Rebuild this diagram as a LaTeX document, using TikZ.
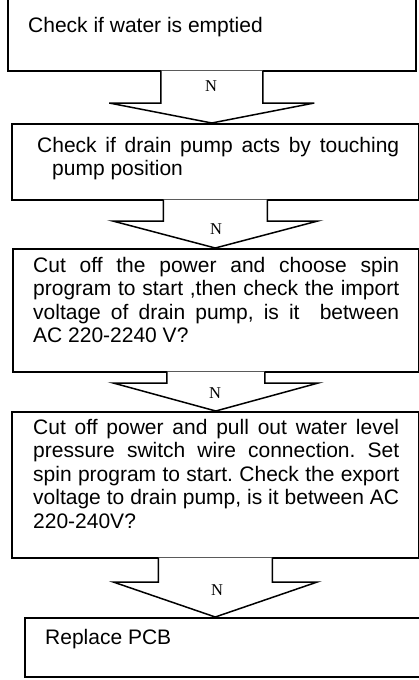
\documentclass[tikz,border=0pt]{standalone}
\usepackage{fontspec}
\setmainfont{Liberation Sans}
\newfontfamily\nfont{Liberation Serif}
\usetikzlibrary{calc}
\frenchspacing
\tikzset{
  box/.style={draw, line width=1.5pt, fill=white, inner sep=0pt, anchor=north west},
  txt/.style={inner sep=0pt, anchor=base west, font=\fontsize{21}{23.6}\selectfont, align=justify},
  arrowbody/.style={draw, fill=white, line width=1.5pt, line join=miter},
  nlabel/.style={inner sep=0pt, font=\nfont\fontsize{16.5}{16.5}\selectfont}
}
% #1 source node, #2 target node, #3 half shaft, #4 half wing, #5 head height
\newcommand\blockarrow[5]{%
  \path[arrowbody] let \p1=(#1.south), \p2=(#2.north) in
    (\x1-#3pt,\y1+1pt) -- (\x1-#3pt,\y2+#5pt) -- (\x1-#4pt,\y2+#5pt) -- (\x1,\y2)
    -- (\x1+#4pt,\y2+#5pt) -- (\x1+#3pt,\y2+#5pt) -- (\x1+#3pt,\y1+1pt);%
}
\begin{document}
\begin{tikzpicture}[x=1pt,y=-1pt]
\useasboundingbox (0,0) rectangle (419,680);
\clip (0,0) rectangle (419,680);
% boxes
\node[box, minimum width=408pt, minimum height=76pt] (b1) at (7,-6) {};
\node[box, minimum width=407pt, minimum height=76pt] (b2) at (11,123) {};
\node[box, minimum width=406pt, minimum height=123pt] (b3) at (12,248) {};
\node[box, minimum width=407pt, minimum height=146pt] (b4) at (11,411) {};
\node[box, minimum width=410pt, minimum height=59pt] (b5) at (24,617) {};
% texts
\node[txt] (t1) at (28,32) {Check if water is emptied};
\node[txt, text width=362pt] (t2) at (37,152) {\tolerance=10000 Check if drain pump acts by touching\linebreak\hspace*{15pt}pump position};
\node[txt, text width=366pt] (t3) at (33,272) {\tolerance=10000 Cut off the power and choose spin\linebreak program to start ,then check the import\linebreak voltage of drain pump, is it\ \ between\linebreak AC 220-2240 V?};
\node[txt, text width=366pt] (t4) at (33,434) {\tolerance=10000 Cut off power and pull out water level\linebreak pressure switch wire connection. Set\linebreak spin program to start. Check the export\linebreak voltage to drain pump, is it between AC\linebreak 220-240V?};
\node[txt] (t5) at (45,644) {Replace PCB};
% block arrows
\blockarrow{b1}{b2}{51}{102.5}{20}
\blockarrow{b2}{b3}{52}{102.5}{27}
\blockarrow{b3}{b4}{49}{102.5}{28}
\blockarrow{b4}{b5}{57}{102}{35}
% labels
\node[nlabel] (n1) at (211,86) {N};
\node[nlabel] (n2) at (216,229) {N};
\node[nlabel] (n3) at (215,393) {N};
\node[nlabel] (n4) at (217,590) {N};
\end{tikzpicture}
\end{document}
